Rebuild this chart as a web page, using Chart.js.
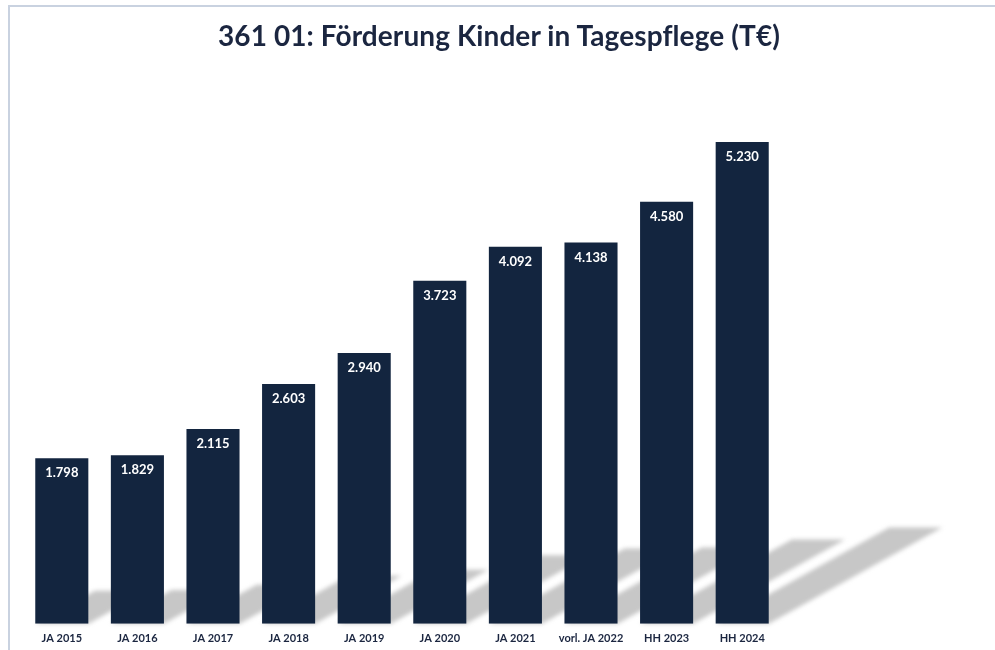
<!DOCTYPE html>
<html>
<head>
<meta charset="utf-8">
<script src="https://cdn.jsdelivr.net/npm/chart.js@4.4.1/dist/chart.umd.min.js"></script>
<style>
  html, body { margin: 0; padding: 0; background: #ffffff; }
  #wrap { position: relative; width: 995px; height: 650px; overflow: hidden; }
  #frame { position: absolute; left: 8px; top: 5px; right: 0; bottom: 0;
           border-top: 2px solid #c9d2e0; border-left: 2px solid #c9d2e0; pointer-events: none; }
  #title { position: absolute; left: 0; width: 998px; top: 18px; text-align: center;
           font: bold 28px Lato, "Open Sans", sans-serif; color: #1b2640; letter-spacing: 0.1px; }
</style>
</head>
<body>
<div id="wrap">
  <canvas id="foerderChart" width="995" height="650"></canvas>
  <div id="frame"></div>
  <div id="title">361 01: Förderung Kinder in Tagespflege (T€)</div>
</div>
<script>
// Förderung Kinder in Tagespflege, Werte in T€
var categories = ['JA 2015', 'JA 2016', 'JA 2017', 'JA 2018', 'JA 2019', 'JA 2020', 'JA 2021', 'vorl. JA 2022', 'HH 2023', 'HH 2024'];
var amounts = [1798, 1829, 2115, 2603, 2940, 3723, 4092, 4138, 4580, 5230];

var barColor = '#13253f';
var textColor = '#1b2640';

// Tausenderpunkt wie im Original
function formatAmount(v) {
    return String(v).replace(/\B(?=(\d{3})+(?!\d))/g, '.');
}

// grauer Schatten schräg hinter den Balken
var barShadows = {
    id: 'barShadows',
    beforeDatasetsDraw: function (chart) {
        var ctx = chart.ctx;
        var meta = chart.getDatasetMeta(0);
        ctx.save();
        ctx.filter = 'blur(2px)';
        ctx.fillStyle = 'rgba(175,175,175,0.7)';
        meta.data.forEach(function (bar) {
            var h = bar.base - bar.y;
            var half = bar.width / 2;
            var dx = h * 0.36, dy = h * 0.2;
            ctx.beginPath();
            ctx.moveTo(bar.x - half, bar.base);
            ctx.lineTo(bar.x + half, bar.base);
            ctx.lineTo(bar.x + half + dx, bar.base - dy);
            ctx.lineTo(bar.x - half + dx, bar.base - dy);
            ctx.closePath();
            ctx.fill();
        });
        ctx.restore();
    }
};

// Werte weiß oben im Balken
var valueLabels = {
    id: 'valueLabels',
    afterDatasetsDraw: function (chart) {
        var ctx = chart.ctx;
        var meta = chart.getDatasetMeta(0);
        ctx.save();
        ctx.fillStyle = '#ffffff';
        ctx.font = 'bold 13px Lato, "Open Sans", sans-serif';
        ctx.textAlign = 'center';
        ctx.textBaseline = 'middle';
        meta.data.forEach(function (bar, i) {
            ctx.fillText(formatAmount(amounts[i]), bar.x, bar.y + 15);
        });
        ctx.restore();
    }
};

document.addEventListener('DOMContentLoaded', function () {
    var ctx = document.getElementById('foerderChart').getContext('2d');
    var foerderChart = new Chart(ctx, {
        type: 'bar',
        data: {
            labels: categories,
            datasets: [{
                data: amounts,
                backgroundColor: barColor,
                borderWidth: 0,
                categoryPercentage: 0.9,
                barPercentage: 0.78
            }]
        },
        options: {
            responsive: false,
            animation: false,
            layout: { padding: { left: 24, right: 215, top: 71, bottom: -3 } },
            plugins: {
                legend: { display: false },
                tooltip: { enabled: false },
                title: { display: false }
            },
            scales: {
                x: {
                    grid: { display: false, drawTicks: false },
                    border: { display: false },
                    ticks: {
                        color: textColor,
                        padding: 8,
                        maxRotation: 0,
                        autoSkip: false,
                        font: { family: 'Lato', size: 11, weight: 'bold' }
                    }
                },
                y: {
                    display: false,
                    min: 0,
                    max: 6000
                }
            }
        },
        plugins: [barShadows, valueLabels]
    });
});
</script>
</body>
</html>
